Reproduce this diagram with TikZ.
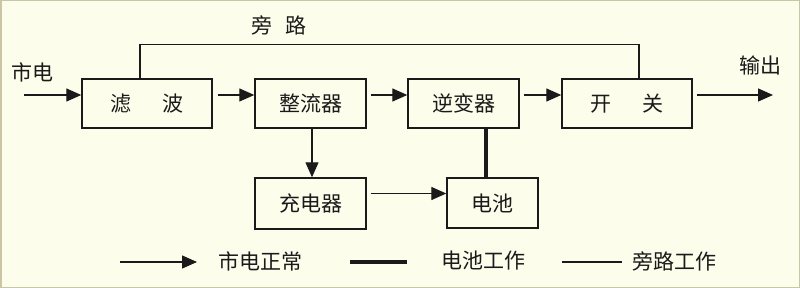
\documentclass[tikz,border=0pt]{standalone}
\usepackage{fontspec}
\setmainfont{Noto Sans CJK SC}
\usetikzlibrary{arrows.meta}
\definecolor{bg}{HTML}{FDFDEC}
\definecolor{frame}{HTML}{C9C5A6}
\definecolor{ink}{HTML}{1A1A1A}
\begin{document}
\begin{tikzpicture}[x=1pt,y=-1pt,
  box/.style={draw=ink,line width=1.4pt,fill=none,minimum height=49pt,inner sep=0pt,font=\fontsize{21}{21}\selectfont,text=ink},
  lbl/.style={inner sep=0pt,font=\fontsize{21}{21}\selectfont,text=ink},
  flow/.style={draw=ink,line width=1.3pt,-{Triangle[length=15pt,width=13pt]}},
  thin/.style={draw=ink,line width=1.3pt},
  thickline/.style={draw=ink,line width=4pt}]
\fill[bg] (0,0) rectangle (800,288);
\draw[frame,line width=1.5pt] (0.75,0.75) rectangle (799.25,287.25);
\useasboundingbox (0,0) rectangle (800,288);
% boxes
\node[box,minimum width=130pt] (filt) at (147,103.5) {滤\hspace{1.5em}波};
\node[box,minimum width=111pt] (rect) at (310.5,103.5) {整流器};
\node[box,minimum width=111pt] (inv) at (463.5,103.5) {逆变器};
\node[box,minimum width=130pt] (sw) at (627,103.5) {开\hspace{1.5em}关};
\node[box,minimum width=111pt,minimum height=51pt] (chg) at (310.5,203.5) {充电器};
\node[box,minimum width=91pt,minimum height=50pt] (bat) at (492.5,203) {电池};
% labels
\node[lbl] (lin) at (32,72) {市电};
\node[lbl] (lout) at (760,65) {输出};
\node[lbl] (lby) at (279,25) {旁\hspace{0.6em}路};
% coordinates
\coordinate (in) at (24,95);
\coordinate (out) at (773,95);
% main flow
\draw[flow] (in) -- ([yshift=8.5pt]filt.west);
\draw[flow,shorten <=5pt] ([yshift=8.5pt]filt.east) -- ([yshift=8.5pt]rect.west);
\draw[flow,shorten <=4pt] ([yshift=8.5pt]rect.east) -- ([yshift=8.5pt]inv.west);
\draw[flow,shorten <=4pt] ([yshift=8.5pt]inv.east) -- ([yshift=8.5pt]sw.west);
\draw[flow,shorten <=4pt] ([yshift=8.5pt]sw.east) -- (out);
% bypass
\draw[thin] ([xshift=-7pt]filt.north) -- ++(0,-34) -| ([xshift=12pt]sw.north);
% charger
\draw[flow] ([xshift=1.5pt]rect.south) -- ([xshift=1.5pt]chg.north);
\draw[flow,shorten <=4pt] ([yshift=10pt]chg.east) -- ([yshift=10pt]chg.east -| bat.west);
% battery to inverter
\draw[thickline] ([xshift=22.5pt]inv.south) -- ([xshift=22.5pt]inv.south |- bat.north);
% legend
\coordinate (l1a) at (120,262);
\coordinate (l1b) at (197,262);
\draw[flow] (l1a) -- (l1b);
\node[lbl] (t1) at (260,261) {市电正常};
\coordinate (l2a) at (350,262);
\coordinate (l2b) at (407,262);
\draw[thickline] (l2a) -- (l2b);
\node[lbl] (t2) at (483,261) {电池工作};
\coordinate (l3a) at (562,262);
\coordinate (l3b) at (622,262);
\draw[thin] (l3a) -- (l3b);
\node[lbl] (t3) at (674,261) {旁路工作};
\end{tikzpicture}
\end{document}
